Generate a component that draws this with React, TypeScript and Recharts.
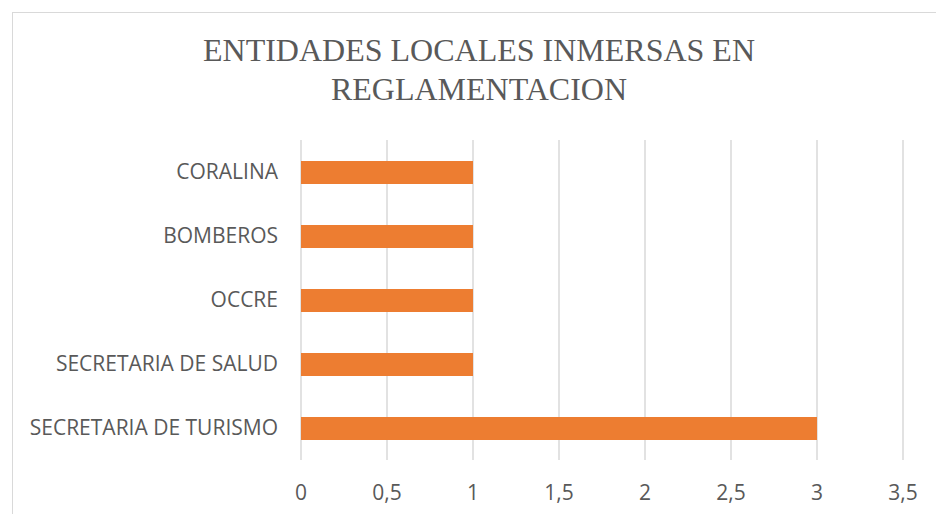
import React from 'react';
import { BarChart, Bar, XAxis, YAxis, CartesianGrid } from 'recharts';

const categories = ['CORALINA', 'BOMBEROS', 'OCCRE', 'SECRETARIA DE SALUD', 'SECRETARIA DE TURISMO'];
const values = [1, 1, 1, 1, 3];
const xTicks = [0, 0.5, 1, 1.5, 2, 2.5, 3, 3.5];

const data = categories.map((name, i) => ({ name, value: values[i] }));

const fmt = (v: number) => String(v).replace('.', ',');

const App: React.FC = () => {
  return (
    <div style={{ position: 'absolute', left: 0, top: 0, width: 936, height: 514, background: '#fff', overflow: 'hidden' }}>
      <div style={{ position: 'absolute', left: 12, top: 12, width: 950, height: 540, borderLeft: '1px solid #d9d9d9', borderTop: '1px solid #d9d9d9' }} />
      <div style={{ position: 'absolute', left: 12, top: 31, width: 934, textAlign: 'center', fontFamily: '"Liberation Serif", serif', fontSize: 32, lineHeight: '39px', color: '#595959' }}>
        ENTIDADES LOCALES INMERSAS EN<br />REGLAMENTACION
      </div>
      <div style={{ position: 'absolute', left: 0, top: 0 }}>
        <BarChart
          width={936}
          height={514}
          data={data}
          layout="vertical"
          margin={{ top: 140, right: 33, bottom: 24, left: 0 }}
          barCategoryGap={0}
        >
          <CartesianGrid horizontal={false} stroke="#d9d9d9" strokeWidth={1.5} />
          <XAxis
            type="number"
            domain={[0, 3.5]}
            ticks={xTicks}
            tickFormatter={fmt}
            axisLine={false}
            tickLine={false}
            tickSize={0}
            tickMargin={25}
            height={30}
            interval={0}
            tick={{ fill: '#595959', fontSize: 21, fontFamily: '"Open Sans", sans-serif' }}
          />
          <YAxis
            type="category"
            dataKey="name"
            width={301}
            axisLine={false}
            tickLine={false}
            tickSize={0}
            tickMargin={23}
            interval={0}
            tick={{ fill: '#595959', fontSize: 21, fontFamily: '"Open Sans", sans-serif' }}
          />
          <Bar dataKey="value" fill="#ed7d31" barSize={23} isAnimationActive={false} />
        </BarChart>
      </div>
    </div>
  );
};

export default App;
